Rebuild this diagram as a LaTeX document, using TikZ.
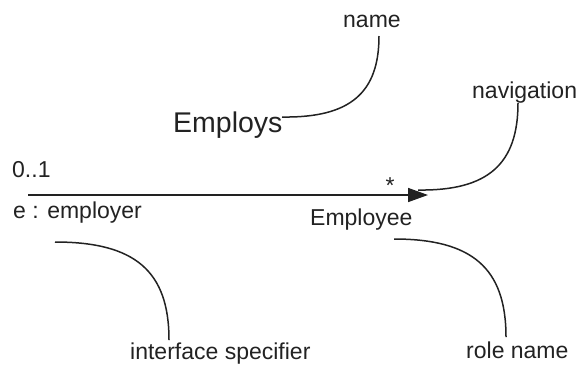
\documentclass[tikz,border=0pt]{standalone}
\usepackage{fontspec}
\setmainfont{Liberation Sans}
\usetikzlibrary{arrows.meta}
\definecolor{ink}{HTML}{222222}
\tikzset{
  lbl/.style={anchor=base west, inner sep=0pt, text=ink,
              font=\fontsize{23bp}{27bp}\selectfont},
  biglbl/.style={lbl, font=\fontsize{28.5bp}{33bp}\selectfont},
  callout/.style={draw=ink, line width=1.5bp},
  assoc/.style={draw=ink, line width=1.6bp,
                -{Triangle[length=20bp,width=14bp]}}
}
\begin{document}
\begin{tikzpicture}[x=1bp,y=-1bp]
  \useasboundingbox (0,0) rectangle (578,366);

  % labels
  \node[lbl] (name) at (343,27) {name};
  \node[lbl] (nav) at (472,98) {navigation};
  \node[biglbl] (employs) at (173,132) {Employs};
  \node[lbl] (mult1) at (12,177) {0..1};
  \node[lbl, anchor=base] (multn) at (390,193) {*};
  \node[lbl] (erole) at (13,218) {e : employer};
  \node[lbl] (employee) at (310,225) {Employee};
  \node[lbl] (iface) at (130,359) {interface specifier};
  \node[lbl] (rolename) at (466,358) {role name};

  % association ends
  \coordinate (src) at (28,195);
  \coordinate (dst) at (428,195);
  \draw[assoc] (src) -- (dst);

  % callout curves
  \coordinate (nameA) at (379,36);
  \coordinate (nameB) at (282,117);
  \draw[callout] (nameA) .. controls (379,93) and (350,118) .. (nameB);

  \coordinate (navA) at (518,103);
  \coordinate (navB) at (418,190);
  \draw[callout] (navA) .. controls (518,164) and (488,191) .. (navB);

  \coordinate (ifA) at (55,242);
  \coordinate (ifB) at (169,340);
  \draw[callout] (ifA) .. controls (135,242) and (169,271) .. (ifB);

  \coordinate (roleA) at (394,239);
  \coordinate (roleB) at (506,337);
  \draw[callout] (roleA) .. controls (472,239) and (506,268) .. (roleB);
\end{tikzpicture}
\end{document}
